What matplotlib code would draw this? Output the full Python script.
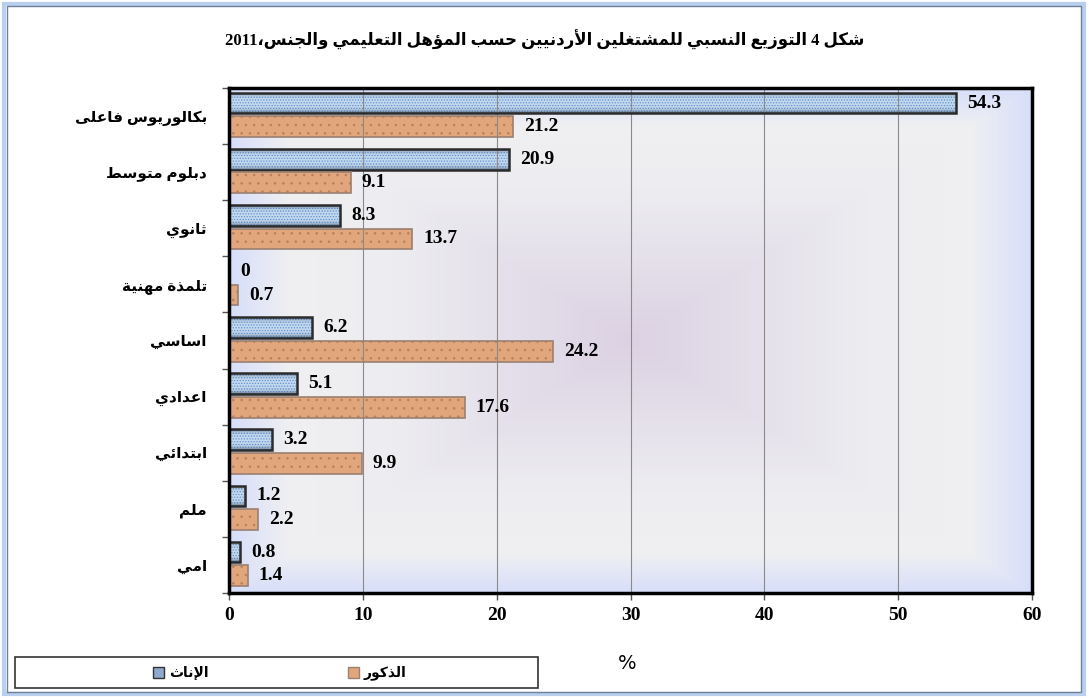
import re
import matplotlib
matplotlib.use('Agg')
import matplotlib.pyplot as plt
import numpy as np
from matplotlib.patches import Rectangle

# data
categories = ['بكالوريوس فاعلى', 'دبلوم متوسط', 'ثانوي', 'تلمذة مهنية', 'اساسي',
              'اعدادي', 'ابتدائي', 'ملم', 'امي']
females = [54.3, 20.9, 8.3, 0, 6.2, 5.1, 3.2, 1.2, 0.8]
males = [21.2, 9.1, 13.7, 0.7, 24.2, 17.6, 9.9, 2.2, 1.4]
x_ticks = [0, 10, 20, 30, 40, 50, 60]
title = 'شكل 4 التوزيع النسبي للمشتغلين الأردنيين حسب المؤهل التعليمي والجنس،2011'
legend_labels = ['الإناث', 'الذكور']

# --- minimal arabic shaping (matplotlib has no complex text layout) ---
DUAL = {'ب': 0xFE8F, 'ت': 0xFE95, 'ث': 0xFE99, 'ج': 0xFE9D, 'ح': 0xFEA1, 'خ': 0xFEA5,
        'س': 0xFEB1, 'ش': 0xFEB5, 'ص': 0xFEB9, 'ض': 0xFEBD, 'ط': 0xFEC1, 'ظ': 0xFEC5,
        'ع': 0xFEC9, 'غ': 0xFECD, 'ف': 0xFED1, 'ق': 0xFED5, 'ك': 0xFED9, 'ل': 0xFEDD,
        'م': 0xFEE1, 'ن': 0xFEE5, 'ه': 0xFEE9, 'ي': 0xFEF1, 'ئ': 0xFE89}
RIGHT = {'ا': 0xFE8D, 'أ': 0xFE83, 'إ': 0xFE87, 'آ': 0xFE81, 'ة': 0xFE93, 'د': 0xFEA9,
         'ذ': 0xFEAB, 'ر': 0xFEAD, 'ز': 0xFEAF, 'و': 0xFEED, 'ى': 0xFEEF, 'ؤ': 0xFE85}
LAMALEF = {'ا': 0xFEFB, 'أ': 0xFEF7, 'إ': 0xFEF9, 'آ': 0xFEF5}


def ar(text):
    out = []
    i, n = 0, len(text)
    while i < n:
        c = text[i]
        pj = i > 0 and text[i - 1] in DUAL
        if c == 'ل' and i + 1 < n and text[i + 1] in LAMALEF:
            out.append(chr(LAMALEF[text[i + 1]] + (1 if pj else 0)))
            i += 2
            continue
        nxt = text[i + 1] if i + 1 < n else ''
        nj = nxt in DUAL or nxt in RIGHT
        if c in DUAL:
            f = 3 if (pj and nj) else 1 if pj else 2 if nj else 0
            out.append(chr(DUAL[c] + f))
        elif c in RIGHT:
            out.append(chr(RIGHT[c] + (1 if pj else 0)))
        else:
            out.append(c)
        i += 1
    toks = re.split(r'([0-9]+(?:\.[0-9]+)?)', ''.join(out))
    return ''.join(t if re.fullmatch(r'[0-9.]+', t) else t[::-1] for t in reversed(toks))


FAM = ['Liberation Serif', 'DejaVu Sans']
plt.rcParams['font.family'] = FAM
plt.rcParams['hatch.linewidth'] = 0.6

fig = plt.figure(figsize=(10.89, 6.98), dpi=100)
ax = fig.add_axes([0.2103, 0.1504, 0.7374, 0.7236])

# background gradient (rectangular "from centre" fill)
gx, gy = np.meshgrid(np.linspace(-1, 1, 400), np.linspace(-1, 1, 300))
r = np.maximum(np.abs(gx), np.abs(gy))
stops = [0, 0.6, 0.85, 1.0]
cols = np.array([[0.86, 0.82, 0.89], [0.93, 0.93, 0.945], [0.94, 0.94, 0.95], [0.84, 0.87, 0.98]])
img = np.dstack([np.interp(r, stops, cols[:, k]) for k in range(3)])
n = len(categories)
ax.imshow(img, extent=[0, 60, n - 0.5, -0.5], aspect='auto', zorder=0, interpolation='bilinear')

y = np.arange(n)
h = 0.37
yf = y - 0.23
ym = y + 0.19

ax.barh(yf, females, height=h, color='#c4d8ee', edgecolor='#5f93d2', hatch='......',
        linewidth=0, zorder=2)
fb = ax.barh(yf, females, height=h, fill=False, edgecolor='#2b2b2b', linewidth=1.8, zorder=3)
ax.barh(ym, males, height=h, color='#e2a67c', edgecolor='#b8805c', hatch='..',
        linewidth=0, zorder=2)
mb = ax.barh(ym, males, height=h, fill=False, edgecolor='#9a8070', linewidth=1.2, zorder=3)

# cylinder-like shading on the female bars
t = np.abs(np.linspace(-1, 1, 60))[:, None]
shade = np.zeros((60, 1, 4))
shade[..., 0], shade[..., 1], shade[..., 2] = 0.25, 0.32, 0.42
shade[..., 3] = 0.75 * t ** 4
for p in fb.patches:
    if p.get_width() <= 0:
        continue
    x0, y0 = p.get_x(), p.get_y()
    im = ax.imshow(shade, extent=[x0, x0 + p.get_width(), y0, y0 + p.get_height()],
                   aspect='auto', zorder=2.5, interpolation='bilinear')
    im.set_clip_path(p)

for bars, vals in ((fb, females), (mb, males)):
    ax.bar_label(bars, labels=[f'{v:g}' for v in vals], padding=8, fontsize=14,
                 fontweight='bold', family=FAM)

ax.set_xlim(0, 60)
ax.set_ylim(n - 0.5, -0.5)
ax.set_xticks(x_ticks)
ax.set_xticklabels([str(t) for t in x_ticks], fontsize=14, fontweight='bold')
ax.set_yticks(y)
ax.set_yticklabels([ar(c) for c in categories], fontsize=11, fontweight='bold')
ax.set_yticks(np.arange(-0.5, n, 1), minor=True)
ax.tick_params(axis='y', which='major', length=0, pad=16)
ax.tick_params(axis='y', which='minor', length=5, width=1, color='#555')
ax.tick_params(axis='x', length=5, width=1, color='#555', pad=5)
ax.xaxis.grid(True, color='#8a8a8a', linewidth=0.8, zorder=1)
ax.set_axisbelow(False)
for s in ax.spines.values():
    s.set_linewidth(2.5)
    s.set_color('black')
    s.set_zorder(4)

fig.text(0.5, 0.943, ar(title), ha='center', va='center', fontsize=12, fontweight='bold')
fig.text(0.576, 0.05, '%', ha='center', va='center', fontsize=14, family='DejaVu Sans')

# legend box
fig.add_artist(Rectangle((15 / 1089, 1 - 688 / 698), 523 / 1089, 31 / 698, transform=fig.transFigure,
                         facecolor='white', edgecolor='#333', linewidth=1.2))
sq = [(153, '#8fa9cc', '#333'), (348, '#e2a67c', '#9a8070')]
for (x0, fc, ec), lab in zip(sq, legend_labels):
    fig.add_artist(Rectangle((x0 / 1089, 1 - 678 / 698), 11 / 1089, 11 / 698,
                             transform=fig.transFigure, facecolor=fc, edgecolor=ec, linewidth=1))
    fig.text((x0 + 16) / 1089, 1 - 673 / 698, ar(lab), ha='left', va='center', fontsize=10,
             fontweight='bold', family='DejaVu Sans')

# outer frame
fig.add_artist(Rectangle((0.004, 0.006), 0.991, 0.988, transform=fig.transFigure, fill=False,
                         edgecolor='#b9cfee', linewidth=3))
fig.add_artist(Rectangle((0.006, 0.009), 0.987, 0.982, transform=fig.transFigure, fill=False,
                         edgecolor='#6d7f99', linewidth=1))

fig.savefig('out.png', dpi=100)
